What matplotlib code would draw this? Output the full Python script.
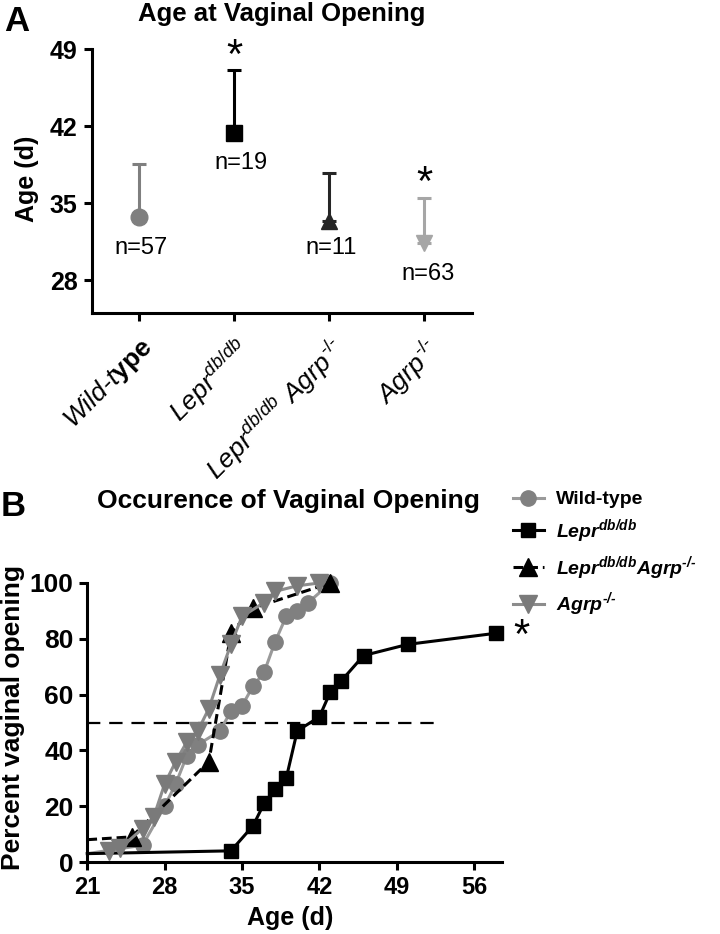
# vaginal opening figure: panel A = age at VO (mean + upper SEM), panel B = cumulative occurrence

import numpy as np
import matplotlib
matplotlib.use('Agg')
from matplotlib import pyplot as plt

plt.rcParams['font.family'] = ['Liberation Sans', 'DejaVu Sans']
plt.rcParams['mathtext.fontset'] = 'custom'
plt.rcParams['mathtext.rm'] = 'Liberation Sans'
plt.rcParams['mathtext.it'] = 'Liberation Sans:italic'
plt.rcParams['mathtext.bf'] = 'Liberation Sans:bold'
plt.rcParams['mathtext.bfit'] = 'Liberation Sans:bold:italic'

# ---- panel A data ----
genotypes = ['Wild-type', 'Lepr db/db', 'Lepr db/db Agrp -/-', 'Agrp -/-']
age_mean = [33.7, 41.4, 33.4, 31.4]
age_err = [4.9, 5.7, 4.3, 4.1]
n_per_group = [57, 19, 11, 63]
signif_a = [False, True, False, True]

# ---- panel B data (age in days, % with vaginal opening) ----
wt_age = [21, 26, 28, 29, 30, 31, 33, 34, 35, 36, 37, 38, 39, 40, 41, 43]
wt_pct = [3, 6, 20, 28, 38, 42, 47, 54, 56, 63, 68, 79, 88, 90, 93, 100]
lepr_age = [21, 34, 36, 37, 38, 39, 40, 42, 43, 44, 46, 50, 58]
lepr_pct = [3, 4, 13, 21, 26, 30, 47, 52, 61, 65, 74, 78, 82]
dko_age = [21, 25, 32, 34, 36, 43]
dko_pct = [8, 9, 36, 82, 91, 100]
agrp_age = [23, 24, 26, 27, 28, 29, 30, 31, 32, 33, 34, 35, 37, 38, 40, 42]
agrp_pct = [4, 5, 12, 16, 28, 36, 43, 47, 55, 67, 78, 88, 93, 97, 99, 100]

W, H = 720, 934
fig = plt.figure(figsize=(W / 100, H / 100), dpi=100)

def px(x, y):
    return x / W, 1 - y / H

lw = 2.2
hy = '\u2010'  # short hyphen for the -/- superscripts
colors_a = ['#7f7f7f', 'black', '#262626', '#a6a6a6']
markers_a = ['o', 's', '^', 'v']

# ================= panel A =================
axA = fig.add_axes([91.5 / W, 1 - 313 / H, 380 / W, (313 - 49.3) / H])
xpos = np.arange(len(genotypes))
for i in range(len(genotypes)):
    axA.errorbar(xpos[i], age_mean[i], yerr=[[0], [age_err[i]]], fmt=markers_a[i],
                 color=colors_a[i], ms=12, elinewidth=lw, capsize=5, capthick=lw,
                 clip_on=False)
    if i == 1:
        axA.text(xpos[i] + 0.07, age_mean[i] - 2.75, f'n={n_per_group[i]}', ha='center', va='center', fontsize=17)
    elif i == 3:
        axA.text(xpos[i] + 0.04, age_mean[i] - 2.85, f'n={n_per_group[i]}', ha='center', va='center', fontsize=17)
    else:
        axA.text(xpos[i] + 0.02, 30.9, f'n={n_per_group[i]}', ha='center', va='center', fontsize=17)
    if signif_a[i]:
        axA.text(xpos[i], age_mean[i] + age_err[i] + 1.2, '*', ha='center', va='center', fontsize=30)

axA.set_xlim(-0.5, 3.5)
axA.set_ylim(25, 49)
axA.set_yticks([28, 35, 42, 49])
axA.set_xticks(xpos)
labels_a = [r'Wild-t$\mathbf{ype}$',
            r'$\mathit{Lepr}^{\mathit{db/db}}$',
            r'$\mathit{Lepr}^{\mathit{db/db}}\ \mathit{Agrp}^{\mathit{' + hy + '/' + hy + '}}$',
            r'$\mathit{Agrp}^{\mathit{' + hy + '/' + hy + '}}$']
axA.set_xticklabels(labels_a, rotation=45, ha='right', rotation_mode='anchor', fontsize=19)
axA.get_xticklabels()[0].set_fontstyle('italic')
for lbl in axA.get_yticklabels():
    lbl.set_fontweight('bold')
    lbl.set_fontsize(18)

# ================= panel B =================
axB = fig.add_axes([87.3 / W, 1 - 862 / H, (501.7 - 87.3) / W, (862 - 583) / H])
axB.plot([21, 53], [50, 50], color='black', lw=1.6, dashes=(6, 4), zorder=1)
axB.plot(wt_age, wt_pct, color='#9a9a9a', lw=lw, marker='o', ms=11, mfc='#808080',
         mec='#808080', markevery=list(range(1, len(wt_age))), clip_on=False, zorder=2)
axB.plot(lepr_age, lepr_pct, color='black', lw=lw, marker='s', ms=10,
         markevery=list(range(1, len(lepr_age))), clip_on=False, zorder=3)
axB.plot(dko_age, dko_pct, color='black', lw=lw, dashes=(3.2, 1.6), marker='^', ms=13,
         markevery=list(range(1, len(dko_age))), clip_on=False, zorder=4)
axB.plot(agrp_age, agrp_pct, color='#8c8c8c', lw=lw, marker='v', ms=13, mfc='#7a7a7a',
         mec='#7a7a7a', clip_on=False, zorder=5)
axB.text(60.3, lepr_pct[-1] - 1.5, '*', ha='center', va='center', fontsize=30)

axB.set_xlim(21, 58.5)
axB.set_ylim(0, 100)
axB.set_xticks(np.arange(21, 57, 7))
axB.set_yticks(np.arange(0, 101, 20))
for lbl in axB.get_xticklabels():
    lbl.set_fontweight('bold')
    lbl.set_fontsize(17)
for lbl in axB.get_yticklabels():
    lbl.set_fontweight('bold')
    lbl.set_fontsize(19)

for ax in (axA, axB):
    for s in ('top', 'right'):
        ax.spines[s].set_visible(False)
    for s in ('left', 'bottom'):
        ax.spines[s].set_linewidth(lw)
    ax.tick_params(width=lw, length=6, pad=4)
axA.tick_params(axis='x', pad=9)

# legend for panel B
leg_handles = axB.get_lines()[1:]
leg_labels = ['Wild-type',
              r'$\mathbfit{Lepr}^{\mathbfit{db/db}}$',
              r'$\mathbfit{Lepr}^{\mathbfit{db/db}}\mathbfit{Agrp}^{\mathbfit{' + hy + '/' + hy + '}}$',
              r'$\mathbfit{Agrp}^{\mathbfit{' + hy + '/' + hy + '}}$']
leg = fig.legend(leg_handles, leg_labels, loc='upper left', bbox_to_anchor=px(503, 481),
                 frameon=False, borderpad=0, handlelength=1.6, handletextpad=0.6,
                 labelspacing=0.45, prop={'size': 14, 'weight': 'bold'})

# titles / labels
fig.text(*px(282, 14), 'Age at Vaginal Opening', ha='center', va='center', fontsize=18.5, fontweight='bold')
fig.text(*px(288, 501), 'Occurence of Vaginal Opening', ha='center', va='center', fontsize=19, fontweight='bold')
fig.text(*px(17, 31), 'A', ha='center', va='baseline', fontsize=25, fontweight='bold')
fig.text(*px(13, 516), 'B', ha='center', va='baseline', fontsize=25, fontweight='bold')
fig.text(*px(27, 179), 'Age (d)', ha='center', va='center', rotation=90, fontsize=18, fontweight='bold')
fig.text(*px(13, 718), 'Percent vaginal opening', ha='center', va='center', rotation=90, fontsize=19, fontweight='bold')
fig.text(*px(290, 918), 'Age (d)', ha='center', va='center', fontsize=18, fontweight='bold')

fig.savefig('out.png', dpi=100)
